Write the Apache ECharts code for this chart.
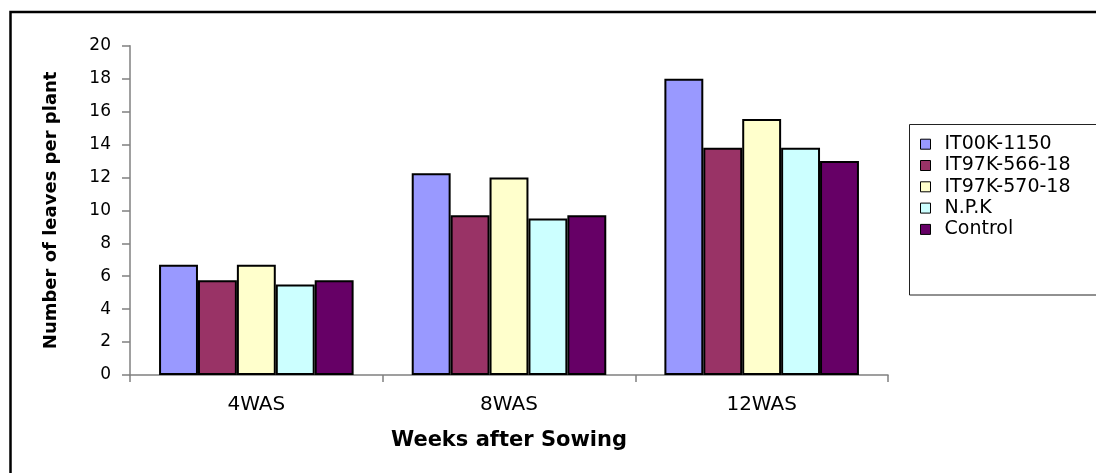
<!DOCTYPE html>
<html>
<head>
<meta charset="utf-8">
<script src="https://cdn.jsdelivr.net/npm/echarts@6/dist/echarts.min.js"></script>
<style>
html,body{margin:0;padding:0;background:#fff;}
#chart{width:1096px;height:473px;}
</style>
</head>
<body>
<div id="chart"></div>
<script>
const categories = ['4WAS', '8WAS', '12WAS'];
const seriesNames = ['IT00K-1150', 'IT97K-566-18', 'IT97K-570-18', 'N.P.K', 'Control'];
const it00k1150 = [6.7, 12.25, 18.0];
const it97k56618 = [5.75, 9.7, 13.8];
const it97k57018 = [6.7, 12.0, 15.55];
const npk = [5.5, 9.5, 13.8];
const control = [5.75, 9.7, 13.0];
const yTicks = [0, 2, 4, 6, 8, 10, 12, 14, 16, 18, 20];
const colors = ['#9999FF', '#993366', '#FFFFCC', '#CCFFFF', '#660066'];
const allValues = [it00k1150, it97k56618, it97k57018, npk, control];

const chart = echarts.init(document.getElementById('chart'));
const font = 'DejaVu Sans';
chart.setOption({
  animation: false,
  backgroundColor: '#ffffff',
  grid: { left: 130, right: 208, top: 45.7, bottom: 98, containLabel: false },
  legend: {
    orient: 'vertical',
    left: 920,
    top: 134.7,
    padding: 0,
    itemWidth: 10,
    itemHeight: 10,
    itemGap: 2.3,
    icon: 'rect',
    itemStyle: { borderColor: '#000', borderWidth: 1 },
    textStyle: { fontFamily: font, fontSize: 19, color: '#000', padding: [0, 0, 0, 9] },
    data: seriesNames
  },
  xAxis: {
    type: 'category',
    data: categories,
    name: 'Weeks after Sowing',
    nameLocation: 'middle',
    nameGap: 55,
    nameTextStyle: { fontFamily: font, fontSize: 21, fontWeight: 'bold', color: '#000' },
    axisLine: { lineStyle: { color: '#808080', width: 1.5 } },
    axisTick: { show: true, length: 7, lineStyle: { color: '#808080', width: 1.5 } },
    axisLabel: { fontFamily: font, fontSize: 20, color: '#000', margin: 20 }
  },
  yAxis: {
    type: 'value',
    min: 0,
    max: 20,
    interval: 2,
    name: 'Number of leaves per plant',
    nameLocation: 'middle',
    nameGap: 70,
    nameTextStyle: { fontFamily: font, fontSize: 18, fontWeight: 'bold', color: '#000' },
    axisLine: { show: true, lineStyle: { color: '#808080', width: 1.5 } },
    axisTick: { show: true, length: 8, lineStyle: { color: '#808080', width: 1.5 } },
    axisLabel: {
      fontFamily: font, fontSize: 17, color: '#000', margin: 19,
      formatter: function (v) { return yTicks.indexOf(v) >= 0 ? String(v) : ''; }
    },
    splitLine: { show: false }
  },
  graphic: [
    { type: 'rect', shape: { x: 10.5, y: 12, width: 1300, height: 700 },
      style: { fill: 'none', stroke: '#000', lineWidth: 2.5 }, z: 100 },
    { type: 'rect', shape: { x: 909.5, y: 124.5, width: 300, height: 170.5 },
      style: { fill: 'none', stroke: '#222', lineWidth: 1 }, z: 100 }
  ],
  series: seriesNames.map(function (name, i) {
    return {
      name: name,
      type: 'bar',
      data: allValues[i],
      barGap: '0%',
      barCategoryGap: '23%',
      itemStyle: { color: colors[i], borderColor: '#000', borderWidth: 2 }
    };
  })
});
</script>
</body>
</html>
